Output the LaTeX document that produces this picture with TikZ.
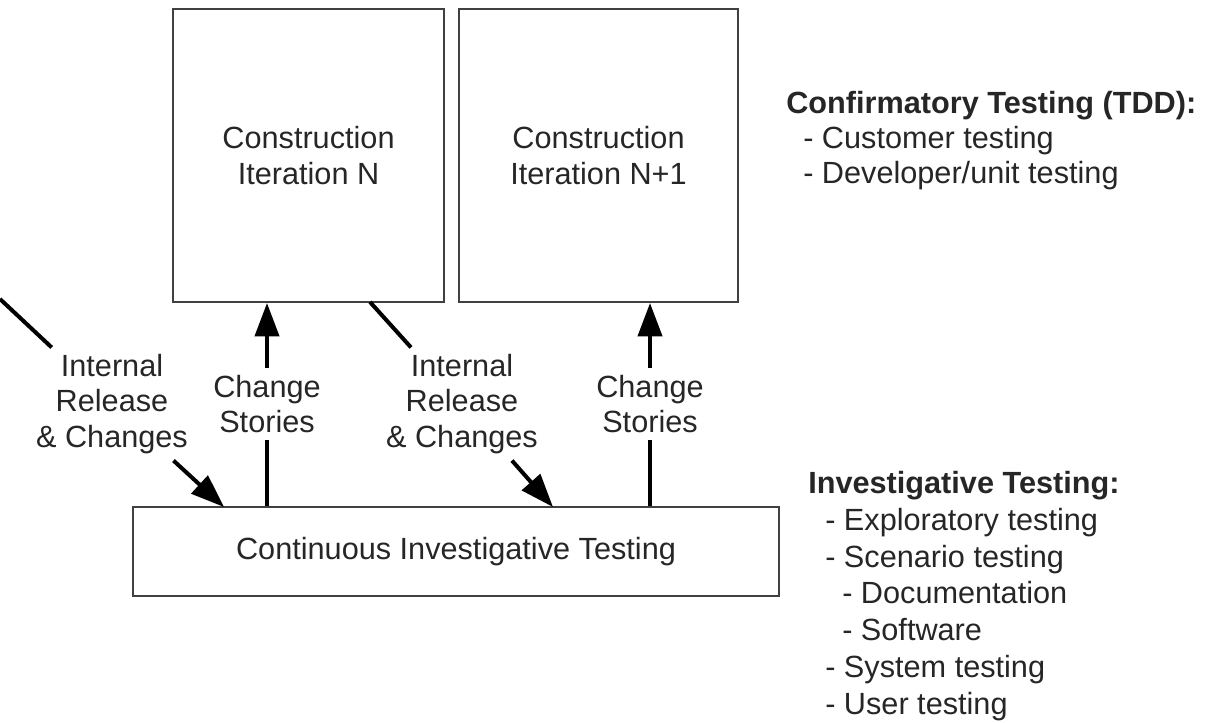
\documentclass[tikz,border=0pt]{standalone}
\usepackage{fontspec}
\setmainfont{Liberation Sans}
\usetikzlibrary{arrows.meta}

\tikzset{
  itbox/.style={draw=black!75, line width=1.5pt, text=black!85, align=center, inner sep=0pt},
  lbl/.style={text=black!85, align=center, inner sep=5pt},
  ln/.style={line width=3pt},
  arr/.style={line width=3pt, -{Triangle[length=25pt,width=18pt]}},
  notes/.style={text=black!85, align=left, inner sep=0pt, anchor=north west}
}

\begin{document}
\begin{tikzpicture}[x=0.75pt, y=-0.75pt, font=\fontsize{23}{26.5}\selectfont]
    \useasboundingbox (0,0) rectangle (1206,722);

    % iterations and the testing box
    \node[itbox, minimum width=203.25pt, minimum height=219.75pt] (itN) at (308.5,155.5) {Construction\\Iteration N};
    \node[itbox, minimum width=209.25pt, minimum height=219.75pt] (itN1) at (598.5,155.5) {Construction\\Iteration N+1};
    \node[itbox, minimum width=484.5pt, minimum height=66.75pt] (cit) at (456,551.5) {Continuous Investigative Testing};

    % labels on the connectors
    \node[lbl] (rel1) at (112,404) {Internal\\Release\\\& Changes};
    \node[lbl] (rel2) at (462,404) {Internal\\Release\\\& Changes};
    \node[lbl] (cs1) at (267,404) {Change\\Stories};
    \node[lbl] (cs2) at (650,404) {Change\\Stories};

    \coordinate (r1a) at (0,299);
    \coordinate (r1b) at (224,507);
    \coordinate (r2a) at (370,302);
    \coordinate (r2b) at (553,507);

    \draw[ln] (r1a) -- (rel1);
    \draw[arr] (rel1) -- (r1b);
    \draw[ln] (r2a) -- (rel2);
    \draw[arr] (rel2) -- (r2b);

    \draw[ln] (cit.north -| cs1) -- (cs1);
    \draw[arr] (cs1) -- (itN.south -| cs1);
    \draw[ln] (cit.north -| cs2) -- (cs2);
    \draw[arr] (cs2) -- (itN1.south -| cs2);

    % notes on the right
    \node[notes, font=\fontsize{23}{26.25}\selectfont] (conf) at (786,91) {\textbf{Confirmatory Testing (TDD):}\\
        \hspace*{12.75pt}- Customer testing\\
        \hspace*{12.75pt}- Developer/unit testing};
    \node[notes, font=\fontsize{23}{27.6}\selectfont] (inv) at (808,471) {\textbf{Investigative Testing:}\\
        \hspace*{12.75pt}- Exploratory testing\\
        \hspace*{12.75pt}- Scenario testing\\
        \hspace*{25.5pt}- Documentation\\
        \hspace*{25.5pt}- Software\\
        \hspace*{12.75pt}- System testing\\
        \hspace*{12.75pt}- User testing};
\end{tikzpicture}
\end{document}
